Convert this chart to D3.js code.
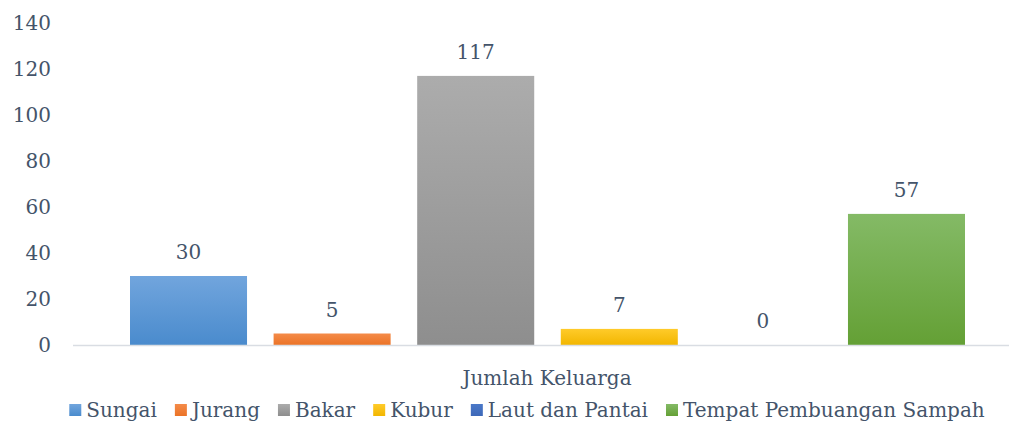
<!DOCTYPE html>
<html><head><meta charset="utf-8">
<script src="https://cdn.jsdelivr.net/npm/d3@7"></script>
<style>body{margin:0;background:#fff}svg{display:block}text{font-family:"DejaVu Serif",serif;fill:#44546a}</style>
</head><body><svg id="c" width="1009" height="421"></svg>
<script>
const series = ["Sungai","Jurang","Bakar","Kubur","Laut dan Pantai","Tempat Pembuangan Sampah"];
const values = [30,5,117,7,0,57];
const yTicks = [0,20,40,60,80,100,120,140];
const category = "Jumlah Keluarga";
const colorsTop = ["#71a5dd","#f48b49","#acacac","#ffcb2a","#4a78c8","#84ba66"];
const colorsBot = ["#4a8bcd","#eb7326","#8e8e8e","#f2b600","#3d68b8","#64a035"];

const svg = d3.select("#c");
const FS = 20;
const y = d3.scaleLinear().domain([0,140]).range([345,23]);
const x = d3.scaleBand().domain(series).range([130,965]).paddingInner(0.185).paddingOuter(0);

const defs = svg.append("defs");
series.forEach((s,i)=>{
  const g = defs.append("linearGradient").attr("id","g"+i).attr("x1",0).attr("y1",0).attr("x2",0).attr("y2",1);
  g.append("stop").attr("offset","0%").attr("stop-color",colorsTop[i]);
  g.append("stop").attr("offset","100%").attr("stop-color",colorsBot[i]);
});

// y tick labels
svg.append("g").selectAll("text").data(yTicks).join("text")
  .attr("x",51).attr("y",d=>y(d)).attr("dy","0.35em").attr("text-anchor","end")
  .style("font-size",FS+"px").text(d=>d);

// bars
svg.append("g").selectAll("rect").data(values).join("rect")
  .attr("x",(d,i)=>x(series[i])).attr("width",x.bandwidth())
  .attr("y",d=>y(d)).attr("height",d=>y(0)-y(d))
  .attr("fill",(d,i)=>`url(#g${i})`);

// axis line
svg.append("line").attr("x1",73).attr("x2",1009).attr("y1",y(0)+0.5).attr("y2",y(0)+0.5)
  .attr("stroke","#d9dde3").attr("stroke-width",1.5);

// value labels
svg.append("g").selectAll("text").data(values).join("text")
  .attr("x",(d,i)=>x(series[i])+x.bandwidth()/2).attr("y",d=>y(d)-24).attr("dy","0.35em")
  .attr("text-anchor","middle").style("font-size",FS+"px").text(d=>d);

// category label
svg.append("text").attr("x",547).attr("y",378).attr("dy","0.35em").attr("text-anchor","middle")
  .style("font-size",FS+"px").text(category);

// legend
const lg = svg.append("g");
let cx = 0;
const items = [];
series.forEach((s,i)=>{
  const it = lg.append("g");
  it.append("rect").attr("x",0).attr("y",-6).attr("width",12).attr("height",12).attr("fill",`url(#g${i})`);
  const t = it.append("text").attr("x",17).attr("y",0).attr("dy","0.35em").style("font-size",FS+"px").text(s);
  const w = 17 + t.node().getComputedTextLength();
  it.attr("transform",`translate(${cx},410)`);
  cx += w + 18;
});
const total = cx - 18;
lg.attr("transform",`translate(${527 - total/2},0)`);
</script></body></html>
